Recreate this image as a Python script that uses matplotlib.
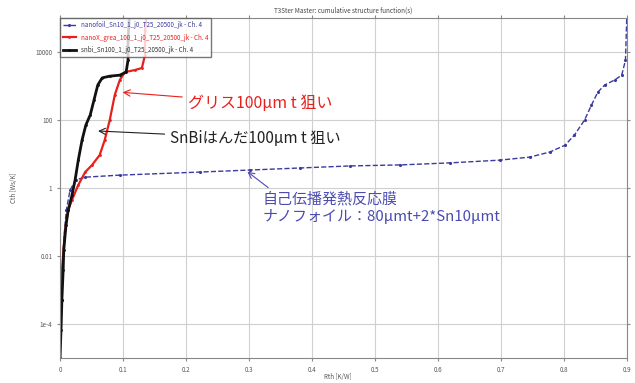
import numpy as np
import matplotlib
matplotlib.use("Agg")
import matplotlib.pyplot as plt

plt.rcParams['font.family'] = ['Noto Sans CJK JP', 'DejaVu Sans']

# 累積構造関数 (Rth [K/W], log10 Cth [Ws/K])
blue_rth = [0.003, 0.006, 0.010, 0.016, 0.025, 0.040, 0.095, 0.222, 0.302, 0.381,
            0.460, 0.540, 0.619, 0.698, 0.746, 0.778, 0.802, 0.817, 0.833, 0.844,
            0.854, 0.865, 0.881, 0.892, 0.898, 0.900]
blue_logc = [-3.29, -1.53, -0.65, -0.06, 0.24, 0.32, 0.38, 0.47, 0.53, 0.59,
             0.65, 0.68, 0.74, 0.82, 0.91, 1.06, 1.26, 1.56, 2.00, 2.44,
             2.82, 3.03, 3.18, 3.32, 3.76, 5.0]

red_rth = [0.0, 0.0, 0.0016, 0.003, 0.005, 0.008, 0.013, 0.019, 0.029, 0.040,
           0.051, 0.063, 0.071, 0.079, 0.087, 0.095, 0.103, 0.119, 0.130, 0.135,
           0.135, 0.137]
red_logc = [-5.0, -3.88, -3.29, -2.41, -1.97, -1.24, -0.65, -0.35, 0.09, 0.47,
            0.68, 0.97, 1.41, 2.00, 2.74, 3.18, 3.41, 3.47, 3.53, 3.91,
            4.65, 5.0]

black_rth = [0.0, 0.0016, 0.003, 0.005, 0.006, 0.0095, 0.013, 0.019, 0.024, 0.029,
             0.035, 0.041, 0.048, 0.054, 0.060, 0.067, 0.079, 0.095, 0.105, 0.108,
             0.108, 0.110]
black_logc = [-5.0, -4.18, -3.29, -2.41, -1.82, -1.09, -0.65, -0.21, 0.24, 0.82,
              1.41, 1.85, 2.15, 2.59, 3.03, 3.24, 3.29, 3.32, 3.41, 3.76,
              4.35, 5.0]

legend_labels = ["nanofoil_Sn10_1_j0_T25_20500_jk - Ch. 4",
                 "nanoX_grea_100_1_j0_T25_20500_jk - Ch. 4",
                 "snbi_Sn100_1_j0_T25_20500_jk - Ch. 4"]

x_ticks = [0, 0.1, 0.2, 0.3, 0.4, 0.5, 0.6, 0.7, 0.8, 0.9]
y_ticks = [1e4, 1e2, 1, 1e-2, 1e-4]
y_ticklabels = ["10000", "100", "1", "0.01", "1e-4"]

fig = plt.figure(figsize=(6.35, 3.83), dpi=100)
ax = fig.add_axes([0.0945, 0.065, 0.8925, 0.888])

ax.plot(blue_rth, 10 ** np.array(blue_logc), color='#3a3aa0', lw=1.0, ls='--',
        marker='.', ms=2.5, label=legend_labels[0])
ax.plot(red_rth, 10 ** np.array(red_logc), color='#e8201c', lw=1.6,
        marker='.', ms=2, label=legend_labels[1])
ax.plot(black_rth, 10 ** np.array(black_logc), color='#111111', lw=2.0,
        marker='.', ms=2, label=legend_labels[2])

ax.set_yscale('log')
ax.set_xlim(0, 0.9)
ax.set_ylim(1e-5, 1e5)
ax.set_xticks(x_ticks)
ax.set_xticklabels([str(t) for t in x_ticks])
ax.set_yticks(y_ticks)
ax.set_yticklabels(y_ticklabels)
ax.minorticks_off()
ax.tick_params(labelsize=4.5, labelcolor='#555555', length=2, color='#888888',
               top=True, right=True)
ax.grid(True, color='#d0d0d0', lw=0.8)
for s in ax.spines.values():
    s.set_color('#888888')

ax.set_title("T3Ster Master: cumulative structure function(s)", fontsize=4.5,
             color='#444444', pad=4)
ax.set_xlabel("Rth [K/W]", fontsize=4.5, color='#555555', labelpad=2)
ax.xaxis.set_label_coords(0.49, -0.045)
ax.set_ylabel("Cth [Ws/K]", fontsize=4.5, color='#555555')
ax.yaxis.set_label_coords(-0.075, 0.5)

leg = ax.legend(loc='upper left', fontsize=4.5, frameon=True, borderpad=0.5,
                handlelength=2.0, labelspacing=0.7, fancybox=False,
                edgecolor='#555555', borderaxespad=0)
for t, c in zip(leg.get_texts(), ['#3a3aa0', '#e8201c', '#333333']):
    t.set_color(c)

ax.annotate("グリス100μm t 狙い", xy=(0.095, 660), xytext=(0.203, 316),
            fontsize=11.5, color='#e8201c', va='center', ha='left',
            arrowprops=dict(arrowstyle='->', color='#e8201c', lw=0.8))
ax.annotate("SnBiはんだ100μm t 狙い", xy=(0.056, 48), xytext=(0.175, 29),
            fontsize=11, color='#222222', va='center', ha='left',
            arrowprops=dict(arrowstyle='->', color='#222222', lw=0.8))
ax.annotate("自己伝播発熱反応膜\nナノフォイル：80μmt+2*Sn10μmt", xy=(0.294, 3.4),
            xytext=(0.321, 0.76), fontsize=10.8, color='#4b4bb0', va='top', ha='left',
            linespacing=1.15,
            arrowprops=dict(arrowstyle='->', color='#4b4bb0', lw=0.8,
                            relpos=(0.05, 1.0)))

fig.savefig("out.png", dpi=100)
